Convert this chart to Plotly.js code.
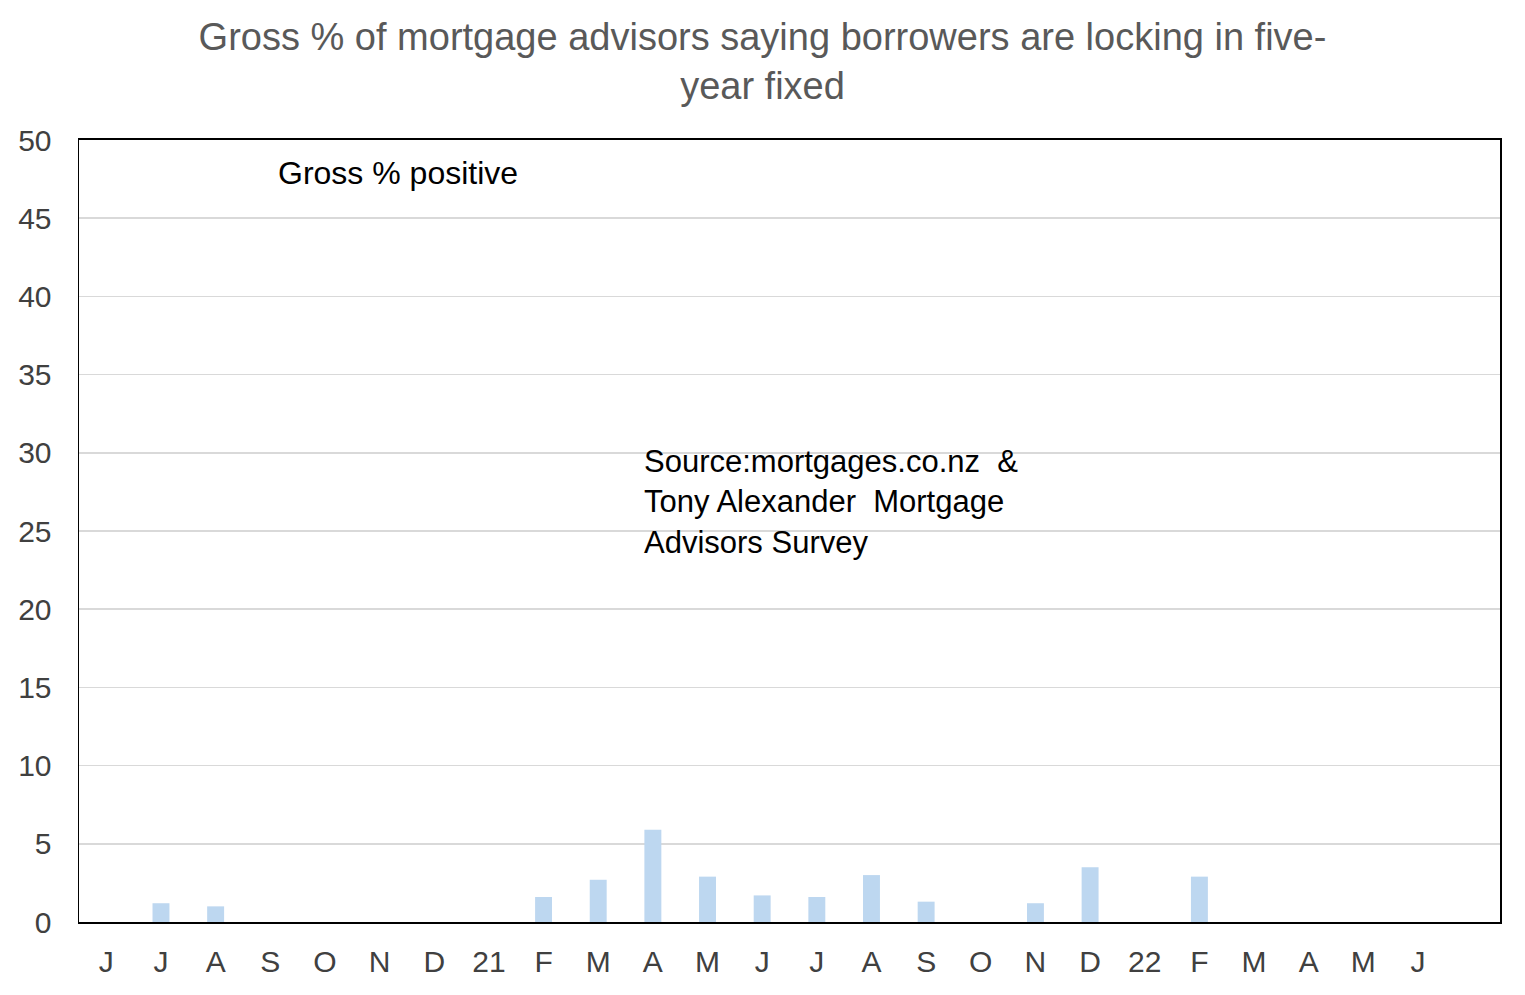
<!DOCTYPE html>
<html>
<head>
<meta charset="utf-8">
<script src="https://cdn.plot.ly/plotly-3.0.1.min.js"></script>
<style>
  body { margin: 0; background: #fff; }
  #chart { width: 1525px; height: 995px; }
</style>
</head>
<body>
<div id="chart"></div>
<script>
// survey months, Jun 2020 .. Jun 2022, plus one empty slot at the end
let months = ["2020-06","2020-07","2020-08","2020-09","2020-10","2020-11","2020-12",
              "2021-01","2021-02","2021-03","2021-04","2021-05","2021-06","2021-07",
              "2021-08","2021-09","2021-10","2021-11","2021-12","2022-01","2022-02",
              "2022-03","2022-04","2022-05","2022-06","2022-07"];
let monthLabels = ["J","J","A","S","O","N","D","21","F","M","A","M","J","J",
                   "A","S","O","N","D","22","F","M","A","M","J",""];
let grossPositive = [0, 1.2, 1.0, 0, 0, 0, 0, 0, 1.6, 2.7, 5.9, 2.9, 1.7, 1.6,
                     3.0, 1.3, 0, 1.2, 3.5, 0, 2.9, 0, 0, 0, 0, null];
let yTicks = [0, 5, 10, 15, 20, 25, 30, 35, 40, 45, 50];

let font = "Liberation Sans, Arial, sans-serif";

Plotly.newPlot('chart', [{
    type: 'bar',
    x: months,
    y: grossPositive,
    marker: {color: 'rgb(189,215,240)', line: {width: 0}},
    hoverinfo: 'none'
}], {
    width: 1525,
    height: 995,
    margin: {l: 79, r: 25, t: 140, b: 73},
    paper_bgcolor: '#fff',
    plot_bgcolor: '#fff',
    showlegend: false,
    bargap: 0.69,
    font: {family: font, color: '#404040'},
    title: {
        text: "Gross % of mortgage advisors saying borrowers are locking in five-<br>year fixed",
        font: {family: font, size: 38, color: '#595959'},
        x: 0.5, xanchor: 'center',
        yref: 'container', y: 0.95, yanchor: 'top'
    },
    xaxis: {
        type: 'category',
        categoryorder: 'array',
        categoryarray: months,
        tickvals: months,
        ticktext: monthLabels,
        tickfont: {family: font, size: 30, color: '#404040'},
        ticks: 'outside', ticklen: 12, tickcolor: 'rgba(0,0,0,0)',
        showgrid: false,
        showline: true, linecolor: '#000', linewidth: 2, mirror: true,
        fixedrange: true
    },
    yaxis: {
        range: [0, 50],
        tickvals: yTicks,
        tickfont: {family: font, size: 30, color: '#404040'},
        ticks: 'outside', ticklen: 20, tickcolor: 'rgba(0,0,0,0)',
        showgrid: true, gridcolor: '#d9d9d9', gridwidth: 1.5,
        zeroline: false,
        showline: true, linecolor: '#000', linewidth: 1.5, mirror: true,
        fixedrange: true
    },
    annotations: [
        {
            text: "Gross % positive",
            xref: 'paper', yref: 'paper', x: 0.1385, y: 0.958,
            xanchor: 'left', yanchor: 'middle', showarrow: false,
            font: {family: font, size: 32, color: '#000'}
        },
        {
            text: "Source:mortgages.co.nz \u00a0&<br>Tony Alexander \u00a0Mortgage<br>Advisors Survey",
            xref: 'paper', yref: 'paper', x: 0.3965, y: 0.537,
            xanchor: 'left', yanchor: 'middle', align: 'left', showarrow: false,
            font: {family: font, size: 31, color: '#000'}
        }
    ]
}, {displayModeBar: false, staticPlot: true});
</script>
</body>
</html>
